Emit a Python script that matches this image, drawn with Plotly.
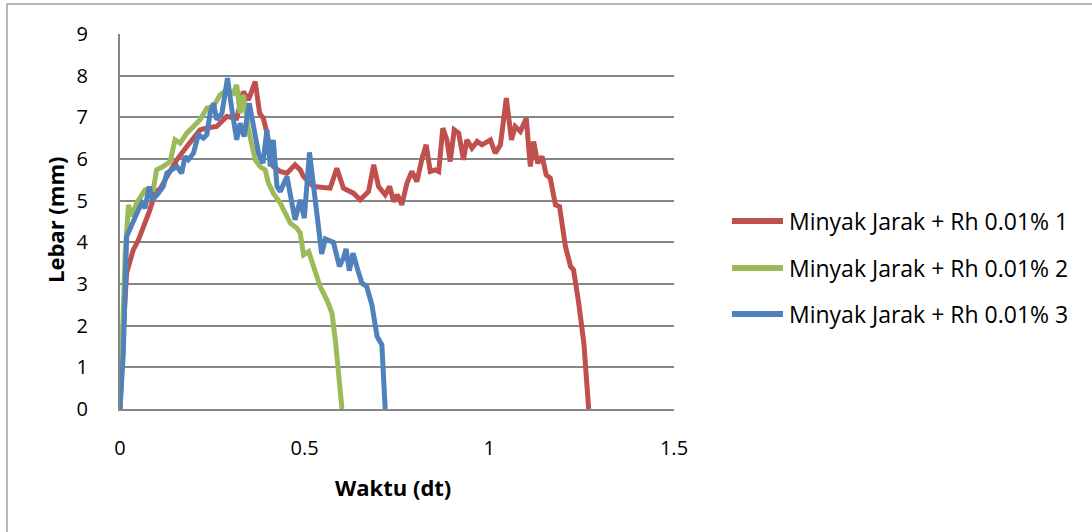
import plotly.graph_objects as go

red_x = [0, 0.008, 0.018, 0.036, 0.05, 0.065, 0.081, 0.095, 0.11, 0.127, 0.154, 0.181, 0.217, 0.24, 0.262, 0.289, 0.316, 0.334, 0.348, 0.366, 0.378, 0.388, 0.398, 0.407, 0.415, 0.434, 0.452, 0.474, 0.488, 0.497, 0.524, 0.569, 0.587, 0.605, 0.632, 0.65, 0.673, 0.687, 0.7, 0.718, 0.73, 0.741, 0.751, 0.763, 0.777, 0.79, 0.804, 0.818, 0.829, 0.84, 0.854, 0.863, 0.874, 0.885, 0.894, 0.905, 0.917, 0.93, 0.939, 0.953, 0.967, 0.98, 1.003, 1.016, 1.03, 1.046, 1.06, 1.07, 1.084, 1.1, 1.111, 1.12, 1.131, 1.143, 1.154, 1.165, 1.179, 1.19, 1.206, 1.22, 1.228, 1.242, 1.256, 1.269]
red_y = [0, 1.8, 3.27, 3.82, 4.06, 4.4, 4.78, 5.19, 5.3, 5.58, 5.98, 6.3, 6.7, 6.75, 6.78, 7.02, 6.98, 7.62, 7.42, 7.86, 7.1, 6.98, 6.62, 6.14, 5.82, 5.7, 5.66, 5.86, 5.74, 5.58, 5.34, 5.3, 5.78, 5.3, 5.18, 5.02, 5.22, 5.86, 5.34, 5.14, 5.34, 4.98, 5.14, 4.9, 5.42, 5.7, 5.46, 6.02, 6.34, 5.7, 5.74, 5.7, 6.74, 6.46, 5.94, 6.7, 6.62, 5.98, 6.46, 6.26, 6.42, 6.34, 6.46, 6.14, 6.34, 7.46, 6.46, 6.78, 6.66, 6.98, 5.82, 6.42, 5.9, 6.06, 5.62, 5.54, 4.9, 4.86, 3.9, 3.42, 3.34, 2.54, 1.58, 0]

green_x = [0, 0.014, 0.023, 0.032, 0.045, 0.068, 0.09, 0.099, 0.117, 0.136, 0.149, 0.163, 0.181, 0.194, 0.217, 0.235, 0.253, 0.271, 0.289, 0.307, 0.316, 0.325, 0.334, 0.348, 0.357, 0.366, 0.379, 0.393, 0.402, 0.415, 0.434, 0.447, 0.461, 0.479, 0.488, 0.497, 0.511, 0.524, 0.542, 0.56, 0.574, 0.583, 0.592, 0.601]
green_y = [0, 3.74, 4.9, 4.62, 4.94, 5.26, 5.26, 5.74, 5.82, 5.94, 6.46, 6.38, 6.62, 6.74, 6.94, 7.22, 7.26, 7.54, 7.66, 7.58, 7.78, 7.1, 7.54, 6.7, 6.38, 5.98, 5.82, 5.74, 5.42, 5.18, 4.94, 4.7, 4.46, 4.34, 4.22, 3.7, 3.78, 3.42, 2.94, 2.62, 2.3, 1.66, 0.86, 0]

blue_x = [0, 0.009, 0.018, 0.027, 0.036, 0.05, 0.059, 0.068, 0.079, 0.088, 0.104, 0.117, 0.127, 0.14, 0.154, 0.167, 0.176, 0.185, 0.199, 0.212, 0.226, 0.235, 0.244, 0.253, 0.262, 0.276, 0.291, 0.303, 0.316, 0.325, 0.336, 0.35, 0.361, 0.375, 0.387, 0.398, 0.407, 0.415, 0.425, 0.434, 0.452, 0.465, 0.474, 0.488, 0.499, 0.513, 0.526, 0.537, 0.546, 0.556, 0.578, 0.594, 0.605, 0.612, 0.621, 0.631, 0.643, 0.655, 0.668, 0.682, 0.696, 0.709, 0.718]
blue_y = [0, 1.34, 4.14, 4.34, 4.54, 4.78, 4.94, 4.82, 5.34, 5.02, 5.18, 5.34, 5.66, 5.74, 5.82, 5.66, 6.06, 5.98, 6.14, 6.58, 6.5, 6.58, 7.1, 7.34, 6.94, 7.1, 7.94, 7.18, 6.46, 6.86, 6.54, 7.34, 6.78, 6.14, 5.9, 6.7, 5.82, 6.46, 5.34, 5.22, 5.58, 4.86, 4.54, 5.02, 4.58, 6.16, 5.3, 4.4, 3.72, 4.08, 4.0, 3.42, 3.62, 3.84, 3.32, 3.74, 3.36, 3.02, 2.94, 2.5, 1.74, 1.54, 0]

series_names = ["Minyak Jarak + Rh 0.01% 1", "Minyak Jarak + Rh 0.01% 2", "Minyak Jarak + Rh 0.01% 3"]
series_colors = ["#C0504D", "#9BBB59", "#4F81BD"]
x_ticks = [0, 0.5, 1, 1.5]
x_tick_labels = ["0", "0.5", "1", "1.5"]
y_ticks = list(range(0, 10))
x_title = "Waktu (dt)"
y_title = "Lebar (mm)"

FONT = "Open Sans"
W, H = 1092, 532
L, R, T, B = 120, 418, 34, 123
pw, ph = W - L - R, H - T - B


def px_x(p):
    return (p - L) / pw


def px_y(p):
    return (H - B - p) / ph


fig = go.Figure()
for i, (xs, ys) in enumerate([(red_x, red_y), (green_x, green_y), (blue_x, blue_y)]):
    fig.add_trace(go.Scatter(x=xs, y=ys, mode="lines", name=series_names[i],
                             showlegend=False, hoverinfo="skip",
                             line=dict(color=series_colors[i], width=5)))

shapes = [dict(type="rect", xref="paper", yref="paper",
               x0=px_x(7), x1=px_x(1110), y0=px_y(560), y1=px_y(4),
               line=dict(color="#A0A0A0", width=1.5), fillcolor="rgba(0,0,0,0)", layer="below")]
annotations = []
legend_rows = [221, 268, 314]
for i, name in enumerate(series_names):
    yy = px_y(legend_rows[i])
    shapes.append(dict(type="line", xref="paper", yref="paper",
                       x0=px_x(732), x1=px_x(783), y0=yy, y1=yy,
                       line=dict(color=series_colors[i], width=6)))
    annotations.append(dict(text=name, xref="paper", yref="paper", x=px_x(787), y=yy,
                            xanchor="left", yanchor="middle", showarrow=False,
                            font=dict(family=FONT, size=23, color="#000000")))

annotations.append(dict(text="<b>" + x_title + "</b>", xref="paper", yref="paper",
                        x=px_x(393), y=px_y(487), xanchor="center", yanchor="middle",
                        showarrow=False, font=dict(family=FONT, size=22, color="#000000")))
annotations.append(dict(text="<b>" + y_title + "</b>", xref="paper", yref="paper",
                        x=px_x(55), y=px_y(220), xanchor="center", yanchor="middle",
                        textangle=-90, showarrow=False,
                        font=dict(family=FONT, size=22, color="#000000")))

fig.update_layout(
    width=W, height=H,
    margin=dict(l=L, r=R, t=T, b=B),
    paper_bgcolor="white", plot_bgcolor="white",
    font=dict(family=FONT, size=20, color="#000000"),
    showlegend=False,
    xaxis=dict(range=[0, 1.5], tickvals=x_ticks, ticktext=x_tick_labels,
               showgrid=False, zeroline=False, showline=True, linecolor="#868686", linewidth=2,
               ticks="", ticklabelstandoff=20),
    yaxis=dict(range=[0, 9], tickvals=y_ticks, showgrid=True, gridcolor="#868686", gridwidth=1.5,
               zeroline=False, showline=True, linecolor="#868686", linewidth=2,
               ticks="", ticklabelstandoff=26),
    shapes=shapes,
    annotations=annotations,
)

fig.write_html("out.html", config={"displayModeBar": False},
               post_script="document.body.style.margin='0';")
